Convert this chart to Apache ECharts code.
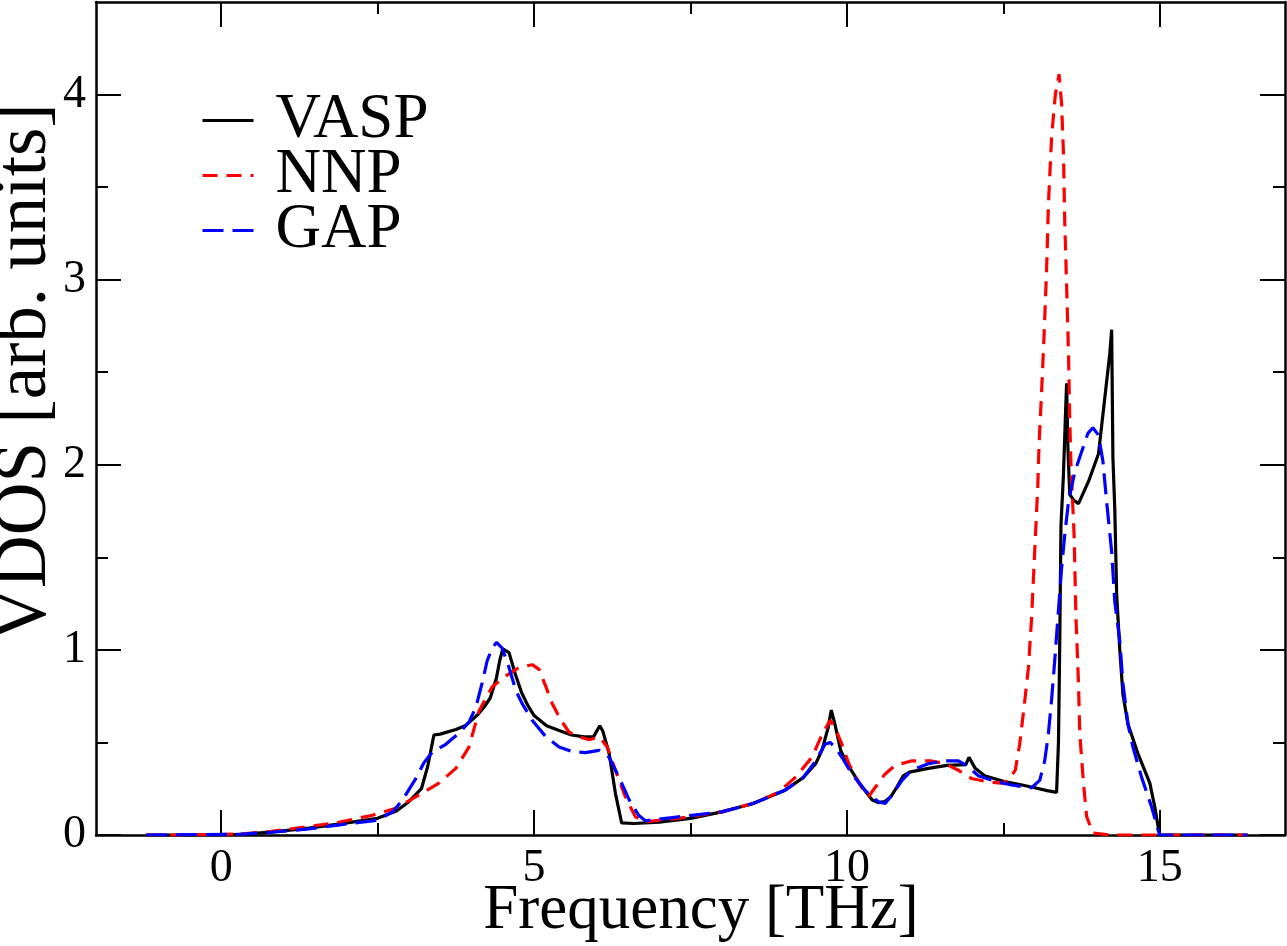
<!DOCTYPE html>
<html>
  <head>
    <meta charset="utf-8" />
    <title>VDOS</title>
    <script src="https://cdn.jsdelivr.net/npm/echarts@6/dist/echarts.min.js"></script>
    <style>
      * {
        margin: 0;
        padding: 0;
        box-sizing: border-box;
      }
      body {
        background: #fff;
      }
    </style>
  </head>
  <body>
    <div id="main" style="width: 1287px; height: 946px"></div>
    <script type="text/javascript">
      // 轴刻度
      const xMajorTicks = [0, 5, 10, 15];
      const xMinorTicks = [2.5, 7.5, 12.5];
      const yMajorTicks = [0, 1, 2, 3, 4];
      const yMinorTicks = [0.5, 1.5, 2.5, 3.5];

      const seriesNames = ["VASP", "NNP", "GAP"];

      // VASP
      const vaspFreq = [
        -1.2, 0.0, 0.3, 0.8, 1.4, 1.9, 2.5, 2.8, 3.0, 3.2, 3.3, 3.4, 3.5, 3.75,
        3.9, 4.0, 4.1, 4.2, 4.3, 4.4, 4.45, 4.5, 4.6, 4.7, 4.8, 4.9, 5.0, 5.2,
        5.4, 5.6, 5.8, 5.95, 6.05, 6.1, 6.2, 6.3, 6.4, 6.6, 7.0, 7.5, 8.0, 8.5,
        9.0, 9.3, 9.5, 9.6, 9.7, 9.75, 9.8, 9.9, 10.0, 10.2, 10.4, 10.5, 10.6,
        10.7, 10.8, 10.9, 11.0, 11.3, 11.6, 11.9, 11.95, 12.05, 12.2, 12.5,
        12.8, 13.0, 13.2, 13.35, 13.38, 13.4, 13.42, 13.46, 13.49, 13.51,
        13.53, 13.56, 13.62, 13.7, 13.86, 14.02, 14.12, 14.2, 14.23, 14.25,
        14.28, 14.31, 14.36, 14.41, 14.49, 14.65, 14.84, 14.92, 14.98, 15.0,
        16.4,
      ];
      const vaspVdos = [
        0, 0, 0.004, 0.016, 0.037, 0.06, 0.09, 0.13, 0.18, 0.25, 0.37, 0.54,
        0.545, 0.57, 0.59, 0.62, 0.65, 0.69, 0.74, 0.85, 0.94, 1.005, 0.985,
        0.87, 0.77, 0.7, 0.645, 0.59, 0.565, 0.54, 0.53, 0.53, 0.59, 0.56, 0.44,
        0.225, 0.065, 0.062, 0.07, 0.09, 0.125, 0.17, 0.24, 0.31, 0.385, 0.457,
        0.58, 0.675, 0.61, 0.457, 0.385, 0.28, 0.19, 0.175, 0.18, 0.206, 0.26,
        0.32, 0.34, 0.36, 0.376, 0.38, 0.42, 0.36, 0.32, 0.29, 0.27, 0.255,
        0.24, 0.23, 0.5, 1.02, 1.67, 1.95, 2.25, 2.44, 2.1, 1.84, 1.81, 1.79,
        1.91, 2.06, 2.36, 2.6, 2.73, 2.04, 1.76, 1.3, 1.0, 0.76, 0.6, 0.44,
        0.28, 0.15, 0.03, 0, 0,
      ];

      // NNP
      const nnpFreq = [
        -1.2, -0.5, 0.3, 0.8, 1.4, 1.9, 2.42, 2.79, 3.11, 3.48, 3.75, 3.96,
        4.12, 4.33, 4.55, 4.76, 4.97, 5.08, 5.19, 5.29, 5.43, 5.56, 5.72, 5.88,
        6.04, 6.17, 6.3, 6.46, 6.62, 6.78, 7.3, 8.0, 8.5, 8.9, 9.17, 9.44, 9.6,
        9.73, 9.81, 9.92, 10.03, 10.19, 10.34, 10.48, 10.61, 10.77, 11.03,
        11.35, 11.57, 11.78, 11.99, 12.26, 12.47, 12.58, 12.69, 12.76, 12.83,
        12.9, 12.95, 13.0, 13.05, 13.07, 13.11, 13.15, 13.19, 13.22, 13.27,
        13.33, 13.39, 13.43, 13.46, 13.48, 13.51, 13.54, 13.56, 13.58, 13.63,
        13.66, 13.7, 13.72, 13.78, 13.83, 13.93, 14.2, 16.4,
      ];
      const nnpVdos = [
        0, 0, 0.005, 0.02, 0.045, 0.07, 0.107, 0.145, 0.206, 0.28, 0.36, 0.475,
        0.67, 0.8, 0.86, 0.905, 0.92, 0.895, 0.8, 0.71, 0.62, 0.555, 0.53,
        0.515, 0.53, 0.475, 0.35, 0.206, 0.098, 0.072, 0.09, 0.125, 0.17, 0.23,
        0.31, 0.42, 0.54, 0.62, 0.58, 0.49, 0.385, 0.28, 0.206, 0.27, 0.33,
        0.376, 0.4, 0.4, 0.385, 0.35, 0.305, 0.287, 0.28, 0.295, 0.35, 0.49,
        0.69, 0.905, 1.17, 1.53, 1.89, 2.11, 2.39, 2.7, 3.05, 3.41, 3.77, 4.0,
        4.11, 3.95, 3.68, 3.32, 2.97, 2.61, 2.25, 2.0, 1.62, 1.17, 0.82, 0.55,
        0.28, 0.1, 0.01, 0, 0,
      ];

      // GAP
      const gapFreq = [
        -1.2, 0.3, 0.8, 1.4, 1.9, 2.5, 2.74, 2.9, 3.11, 3.24, 3.38, 3.59, 3.8,
        3.96, 4.07, 4.17, 4.25, 4.33, 4.4, 4.49, 4.6, 4.71, 4.81, 4.97, 5.19,
        5.4, 5.61, 5.82, 6.04, 6.2, 6.36, 6.52, 6.67, 6.78, 7.31, 8.0, 8.5, 9.0,
        9.3, 9.5, 9.65, 9.73, 9.81, 9.92, 10.08, 10.29, 10.5, 10.61, 10.74,
        10.88, 11.03, 11.3, 11.57, 11.78, 11.91, 12.1, 12.37, 12.63, 12.95,
        13.08, 13.16, 13.22, 13.27, 13.32, 13.37, 13.43, 13.48, 13.54, 13.64,
        13.75, 13.85, 13.93, 14.02, 14.09, 14.15, 14.23, 14.28, 14.36, 14.41,
        14.49, 14.57, 14.71, 14.87, 14.97, 15.0, 16.4,
      ];
      const gapVdos = [
        0, 0.004, 0.015, 0.033, 0.055, 0.08, 0.125, 0.19, 0.305, 0.39, 0.45,
        0.49, 0.55, 0.61, 0.69, 0.82, 0.94, 1.01, 1.04, 1.01, 0.905, 0.78, 0.71,
        0.62, 0.53, 0.475, 0.45, 0.445, 0.457, 0.42, 0.31, 0.19, 0.107, 0.077,
        0.098, 0.125, 0.17, 0.24, 0.31, 0.4, 0.49, 0.5, 0.475, 0.42, 0.33, 0.24,
        0.18, 0.17, 0.225, 0.295, 0.35, 0.385, 0.4, 0.4, 0.376, 0.32, 0.29,
        0.27, 0.255, 0.295, 0.4, 0.55, 0.73, 0.94, 1.17, 1.44, 1.62, 1.8, 1.96,
        2.07, 2.17, 2.2, 2.16, 2.02, 1.8, 1.53, 1.26, 1.05, 0.82, 0.6, 0.475,
        0.31, 0.15, 0.03, 0, 0,
      ];

      const pairs = (xs, ys) => xs.map((x, i) => [x, ys[i]]);

      const FONT = "Liberation Serif";
      const xMin = -2,
        xMax = 17,
        yMin = 0,
        yMax = 4.5;

      // 轴（主刻度 + 次刻度，上下左右四条）
      function xAxisCfg(pos, ticks, len, showLine, showLabel) {
        return {
          type: "value",
          position: pos,
          min: xMin,
          max: xMax,
          axisLine: {
            show: showLine,
            onZero: false,
            lineStyle: { color: "#000", width: 2.5 },
          },
          axisTick: {
            show: true,
            inside: true,
            customValues: ticks,
            length: len,
            lineStyle: { color: "#000", width: 2 },
          },
          axisLabel: {
            show: showLabel,
            customValues: ticks,
            color: "#000",
            fontFamily: FONT,
            fontSize: 46,
            margin: 11,
          },
          splitLine: { show: false },
        };
      }
      function yAxisCfg(pos, ticks, len, showLine, showLabel) {
        return {
          type: "value",
          position: pos,
          min: yMin,
          max: yMax,
          axisLine: {
            show: showLine,
            onZero: false,
            lineStyle: { color: "#000", width: 2.5 },
          },
          axisTick: {
            show: true,
            inside: true,
            customValues: ticks,
            length: len,
            lineStyle: { color: "#000", width: 2 },
          },
          axisLabel: {
            show: showLabel,
            customValues: ticks,
            color: "#000",
            fontFamily: FONT,
            fontSize: 46,
            margin: 10,
          },
          splitLine: { show: false },
        };
      }

      var myChart = echarts.init(document.getElementById("main"));

      var option = {
        animation: false,
        backgroundColor: "#fff",
        grid: { left: 96, right: 2, top: 2, bottom: 111, containLabel: false },
        legend: {
          orient: "vertical",
          left: 201,
          top: 89,
          padding: 0,
          itemGap: -8,
          itemWidth: 51,
          itemHeight: 4,
          data: seriesNames,
          lineStyle: { width: 3 },
          itemStyle: { opacity: 0 },
          textStyle: {
            fontFamily: FONT,
            fontSize: 63,
            color: "#000",
            padding: [0, 0, 0, 17],
          },
        },
        graphic: [
          {
            type: "text",
            x: 701,
            y: 911,
            style: {
              text: "Frequency [THz]",
              font: "63px 'Liberation Serif'",
              fill: "#000",
              textAlign: "center",
              textVerticalAlign: "middle",
            },
          },
          {
            type: "text",
            x: 26,
            y: 372,
            rotation: Math.PI / 2,
            style: {
              text: "VDOS [arb. units]",
              font: "73px 'Liberation Serif'",
              fill: "#000",
              textAlign: "center",
              textVerticalAlign: "middle",
            },
          },
        ],
        xAxis: [
          xAxisCfg("bottom", xMajorTicks, 25, true, true),
          xAxisCfg("bottom", xMinorTicks, 12, false, false),
          xAxisCfg("top", xMajorTicks, 25, true, false),
          xAxisCfg("top", xMinorTicks, 12, false, false),
        ],
        yAxis: [
          yAxisCfg("left", yMajorTicks, 25, true, true),
          yAxisCfg("left", yMinorTicks, 12, false, false),
          yAxisCfg("right", yMajorTicks, 25, true, false),
          yAxisCfg("right", yMinorTicks, 12, false, false),
        ],
        series: [
          {
            name: "VASP",
            type: "line",
            symbol: "none",
            data: pairs(vaspFreq, vaspVdos),
            lineStyle: { color: "#000", width: 3.2 },
            itemStyle: { color: "#000" },
          },
          {
            name: "NNP",
            type: "line",
            symbol: "none",
            data: pairs(nnpFreq, nnpVdos),
            lineStyle: { color: "#ff0000", width: 3.2, type: [15, 9] },
            itemStyle: { color: "#ff0000" },
          },
          {
            name: "GAP",
            type: "line",
            symbol: "none",
            data: pairs(gapFreq, gapVdos),
            lineStyle: { color: "#0000ff", width: 3.2, type: [21, 9] },
            itemStyle: { color: "#0000ff" },
          },
        ],
      };

      myChart.setOption(option);
    </script>
  </body>
</html>
